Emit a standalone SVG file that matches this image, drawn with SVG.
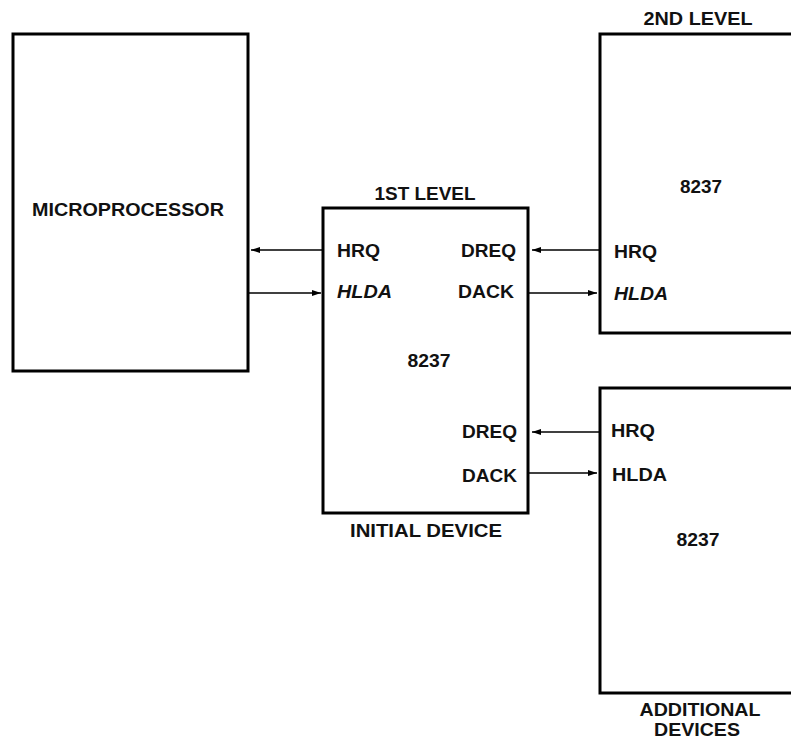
<svg xmlns="http://www.w3.org/2000/svg" width="791" height="739" viewBox="0 0 791 739">
<style>
.box{fill:none;stroke:#000;stroke-width:3}
.t{font-family:"Liberation Sans",Arial,sans-serif;font-weight:bold;font-size:18px;fill:#111}
.i{font-style:italic}
.m{text-anchor:middle}
.e{text-anchor:end}
.c{stroke:#000;stroke-width:1.6;fill:none;marker-end:url(#ah)}
</style>
<defs>
<marker id="ah" markerUnits="userSpaceOnUse" markerWidth="10" markerHeight="8" refX="9" refY="4" orient="auto">
<path d="M0,1 L9,4 L0,7 Z" fill="#000"/>
</marker>
</defs>
<rect width="791" height="739" fill="#fff"/>
<g id="microprocessor">
<rect class="box" x="13" y="34" width="235" height="337"/>
<text class="t m" x="128" y="216" textLength="192" lengthAdjust="spacingAndGlyphs">MICROPROCESSOR</text>
</g>
<g id="first-level">
<rect class="box" x="323" y="208" width="205" height="305"/>
<text class="t m" x="425" y="200" textLength="101" lengthAdjust="spacingAndGlyphs">1ST LEVEL</text>
<text class="t" x="337" y="257" textLength="43" lengthAdjust="spacingAndGlyphs">HRQ</text>
<text class="t i" x="337" y="298" textLength="55" lengthAdjust="spacingAndGlyphs">HLDA</text>
<text class="t e" x="516" y="257" textLength="55" lengthAdjust="spacingAndGlyphs">DREQ</text>
<text class="t e" x="514" y="298" textLength="56" lengthAdjust="spacingAndGlyphs">DACK</text>
<text class="t m" x="429" y="367" textLength="43" lengthAdjust="spacingAndGlyphs">8237</text>
<text class="t e" x="517" y="438" textLength="55" lengthAdjust="spacingAndGlyphs">DREQ</text>
<text class="t e" x="517" y="482" textLength="55" lengthAdjust="spacingAndGlyphs">DACK</text>
<text class="t m" x="426" y="537" textLength="152" lengthAdjust="spacingAndGlyphs">INITIAL DEVICE</text>
</g>
<g id="second-level">
<rect class="box" x="600" y="34" width="200" height="299"/>
<text class="t m" x="698" y="25" textLength="109" lengthAdjust="spacingAndGlyphs">2ND LEVEL</text>
<text class="t m" x="701" y="193" textLength="42" lengthAdjust="spacingAndGlyphs">8237</text>
<text class="t" x="614" y="258" textLength="43" lengthAdjust="spacingAndGlyphs">HRQ</text>
<text class="t i" x="614" y="300" textLength="54" lengthAdjust="spacingAndGlyphs">HLDA</text>
</g>
<g id="additional-devices">
<rect class="box" x="600" y="388" width="200" height="305"/>
<text class="t" x="611" y="437" textLength="44" lengthAdjust="spacingAndGlyphs">HRQ</text>
<text class="t" x="612" y="481" textLength="55" lengthAdjust="spacingAndGlyphs">HLDA</text>
<text class="t m" x="698" y="546" textLength="43" lengthAdjust="spacingAndGlyphs">8237</text>
<text class="t m" x="700" y="716" textLength="121" lengthAdjust="spacingAndGlyphs">ADDITIONAL</text>
<text class="t m" x="697" y="736" textLength="86" lengthAdjust="spacingAndGlyphs">DEVICES</text>
</g>
<g id="connectors">
<line class="c" x1="323" y1="250" x2="251" y2="250"/>
<line class="c" x1="248" y1="293" x2="321" y2="293"/>
<line class="c" x1="600" y1="250" x2="532" y2="250"/>
<line class="c" x1="528" y1="293" x2="597" y2="293"/>
<line class="c" x1="600" y1="432" x2="532" y2="432"/>
<line class="c" x1="528" y1="473" x2="597" y2="473"/>
</g>
</svg>
